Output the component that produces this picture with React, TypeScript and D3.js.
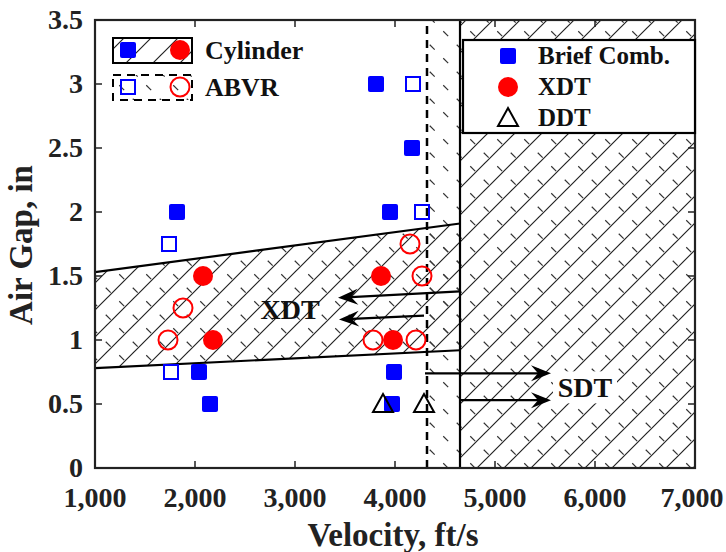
import React, { useEffect, useRef } from 'react';
import * as d3 from 'd3';

// axis ticks
const xTicks = [1000, 2000, 3000, 4000, 5000, 6000, 7000];
const yTicks = [0, 0.5, 1, 1.5, 2, 2.5, 3, 3.5];

// Brief combustion, cylinder (filled squares)
const briefCylVel = [1820, 2040, 2150, 3810, 3950, 4170, 3990, 3970];
const briefCylGap = [2.0, 0.75, 0.5, 3.0, 2.0, 2.5, 0.75, 0.5];
// Brief combustion, ABVR (open squares)
const briefAbvrVel = [1740, 1760, 4180, 4270];
const briefAbvrGap = [1.75, 0.75, 3.0, 2.0];
// XDT, cylinder (filled circles)
const xdtCylVel = [2080, 2180, 3860, 3980];
const xdtCylGap = [1.5, 1.0, 1.5, 1.0];
// XDT, ABVR (open circles)
const xdtAbvrVel = [1880, 1730, 4150, 4270, 3780, 4210];
const xdtAbvrGap = [1.25, 1.0, 1.75, 1.5, 1.0, 1.0];
// DDT (triangles)
const ddtVel = [3880, 4290];
const ddtGap = [0.5, 0.5];

// XDT band edges, at the two ends of the band
const bandVel = [1000, 4650];
const bandTop = [1.53, 1.91];
const bandBottom = [0.78, 0.92];
const abvrLimit = 4320;
const cylLimit = 4650;

// annotation arrows [fromVel, fromGap, toVel, toGap]
const xdtArrows = [[4650, 1.38, 3430, 1.33], [4290, 1.19, 3440, 1.16]];
const sdtArrows = [[4300, 0.74, 5560, 0.74], [4650, 0.53, 5560, 0.53]];

const W = 726;
const H = 552;
const FONT = '"Liberation Serif", "Times New Roman", serif';

const App = () => {
  const svgRef = useRef<SVGSVGElement>(null);

  useEffect(() => {
    const svg = d3.select(svgRef.current);
    svg.selectAll('*').remove();

    const x = d3.scaleLinear().domain([1000, 7000]).range([95, 695]);
    const y = d3.scaleLinear().domain([0, 3.5]).range([468, 20]);

    const defs = svg.append('defs');
    defs.append('clipPath').attr('id', 'plotClip')
      .append('rect').attr('x', 95).attr('y', 20).attr('width', 600).attr('height', 448);

    // solid "/" hatch (cylinder)
    defs.append('pattern').attr('id', 'hatchSolid')
      .attr('patternUnits', 'userSpaceOnUse').attr('width', 27).attr('height', 27)
      .append('path').attr('d', 'M-2,2 L2,-2 M0,27 L27,0 M25,29 L29,25')
      .attr('stroke', '#222').attr('stroke-width', 1.2);

    // dashed "\" hatch (ABVR)
    defs.append('pattern').attr('id', 'hatchDash')
      .attr('patternUnits', 'userSpaceOnUse').attr('width', 27).attr('height', 27)
      .attr('x', 7).attr('y', 0)
      .append('path').attr('d', 'M0,0 L27,27')
      .attr('stroke', '#333').attr('stroke-width', 1.2)
      .attr('stroke-dasharray', '7 12.09').attr('stroke-dashoffset', -6);

    const plot = svg.append('g').attr('clip-path', 'url(#plotClip)');

    const band = [
      [x(bandVel[0]), y(bandTop[0])],
      [x(bandVel[1]), y(bandTop[1])],
      [x(bandVel[1]), y(bandBottom[1])],
      [x(bandVel[0]), y(bandBottom[0])],
    ];
    const bandPath = 'M' + band.map(p => p.join(',')).join('L') + 'Z';

    // ABVR hatch
    plot.append('path').attr('d', bandPath).attr('fill', 'url(#hatchDash)');
    plot.append('rect').attr('x', x(abvrLimit)).attr('y', y(3.5))
      .attr('width', x(7000) - x(abvrLimit)).attr('height', y(0) - y(3.5))
      .attr('fill', 'url(#hatchDash)');
    // Cylinder hatch
    plot.append('path').attr('d', bandPath).attr('fill', 'url(#hatchSolid)');
    plot.append('rect').attr('x', x(cylLimit)).attr('y', y(3.5))
      .attr('width', x(7000) - x(cylLimit)).attr('height', y(0) - y(3.5))
      .attr('fill', 'url(#hatchSolid)');

    // band edges and limits
    plot.append('line').attr('x1', x(bandVel[0])).attr('y1', y(bandTop[0]))
      .attr('x2', x(bandVel[1])).attr('y2', y(bandTop[1]))
      .attr('stroke', '#000').attr('stroke-width', 2.2);
    plot.append('line').attr('x1', x(bandVel[0])).attr('y1', y(bandBottom[0]))
      .attr('x2', x(bandVel[1])).attr('y2', y(bandBottom[1]))
      .attr('stroke', '#000').attr('stroke-width', 2.2);
    plot.append('line').attr('x1', x(cylLimit)).attr('x2', x(cylLimit))
      .attr('y1', y(0)).attr('y2', y(3.5))
      .attr('stroke', '#000').attr('stroke-width', 2.2);
    plot.append('line').attr('x1', x(abvrLimit)).attr('x2', x(abvrLimit))
      .attr('y1', y(0)).attr('y2', y(3.5))
      .attr('stroke', '#000').attr('stroke-width', 2.5).attr('stroke-dasharray', '8 6');

    // frame and ticks
    svg.append('rect').attr('x', 95).attr('y', 20).attr('width', 600).attr('height', 448)
      .attr('fill', 'none').attr('stroke', '#222').attr('stroke-width', 2.2);
    const ticks = svg.append('g').attr('stroke', '#222').attr('stroke-width', 1.5);
    xTicks.forEach(v => {
      ticks.append('line').attr('x1', x(v)).attr('x2', x(v)).attr('y1', y(0)).attr('y2', y(0) - 7);
      ticks.append('line').attr('x1', x(v)).attr('x2', x(v)).attr('y1', y(3.5)).attr('y2', y(3.5) + 7);
    });
    yTicks.forEach(v => {
      ticks.append('line').attr('x1', x(1000)).attr('x2', x(1000) + 7).attr('y1', y(v)).attr('y2', y(v));
      ticks.append('line').attr('x1', x(7000)).attr('x2', x(7000) - 7).attr('y1', y(v)).attr('y2', y(v));
    });

    const txt = svg.append('g').attr('font-family', FONT).attr('font-weight', 'bold').attr('fill', '#222');
    xTicks.forEach(v => {
      txt.append('text').attr('x', Math.min(x(v), 692)).attr('y', 507).attr('text-anchor', 'middle')
        .attr('font-size', 28).text(d3.format(',')(v));
    });
    yTicks.forEach(v => {
      txt.append('text').attr('x', 83).attr('y', y(v) + 9).attr('text-anchor', 'end')
        .attr('font-size', 28).text(String(v));
    });
    txt.append('text').attr('x', 393).attr('y', 546).attr('text-anchor', 'middle')
      .attr('font-size', 33).text('Velocity, ft/s');
    txt.append('text').attr('transform', `translate(32,245) rotate(-90)`).attr('text-anchor', 'middle')
      .attr('font-size', 33).text('Air Gap, in');

    // markers
    const g = svg.append('g');
    const filledSquare = (sel, cx, cy) => sel.append('rect')
      .attr('x', cx - 8).attr('y', cy - 8).attr('width', 16).attr('height', 16).attr('rx', 2)
      .attr('fill', '#0000ff');
    const openSquare = (sel, cx, cy) => sel.append('rect')
      .attr('x', cx - 7).attr('y', cy - 7).attr('width', 14).attr('height', 14)
      .attr('fill', 'none').attr('stroke', '#0000ff').attr('stroke-width', 2);
    const filledCircle = (sel, cx, cy) => sel.append('circle')
      .attr('cx', cx).attr('cy', cy).attr('r', 10).attr('fill', '#ff0000');
    const openCircle = (sel, cx, cy) => sel.append('circle')
      .attr('cx', cx).attr('cy', cy).attr('r', 9.5)
      .attr('fill', 'none').attr('stroke', '#ff0000').attr('stroke-width', 2);
    const triangle = (sel, cx, cy) => sel.append('path')
      .attr('d', `M${cx},${cy - 10} L${cx + 10},${cy + 8} L${cx - 10},${cy + 8} Z`)
      .attr('fill', 'none').attr('stroke', '#000').attr('stroke-width', 2);

    briefCylVel.forEach((v, i) => filledSquare(g, x(v), y(briefCylGap[i])));
    briefAbvrVel.forEach((v, i) => openSquare(g, x(v), y(briefAbvrGap[i])));
    xdtCylVel.forEach((v, i) => filledCircle(g, x(v), y(xdtCylGap[i])));
    xdtAbvrVel.forEach((v, i) => openCircle(g, x(v), y(xdtAbvrGap[i])));
    ddtVel.forEach((v, i) => triangle(g, x(v), y(ddtGap[i])));

    // arrows
    const arrow = (a) => {
      const x1 = x(a[0]), y1 = y(a[1]), x2 = x(a[2]), y2 = y(a[3]);
      const ang = Math.atan2(y2 - y1, x2 - x1);
      const L = 20, hw = 8, notch = 7;
      const ux = Math.cos(ang), uy = Math.sin(ang);
      const px = -uy, py = ux;
      g.append('line').attr('x1', x1).attr('y1', y1)
        .attr('x2', x2 - ux * (L - notch)).attr('y2', y2 - uy * (L - notch))
        .attr('stroke', '#000').attr('stroke-width', 2.2);
      const pts = [
        [x2, y2],
        [x2 - ux * L + px * hw, y2 - uy * L + py * hw],
        [x2 - ux * (L - notch), y2 - uy * (L - notch)],
        [x2 - ux * L - px * hw, y2 - uy * L - py * hw],
      ];
      g.append('path').attr('d', 'M' + pts.map(p => p.join(',')).join('L') + 'Z').attr('fill', '#000');
    };
    xdtArrows.forEach(arrow);
    sdtArrows.forEach(arrow);

    const ann = svg.append('g').attr('font-family', FONT).attr('font-weight', 'bold').attr('fill', '#111')
      .attr('font-size', 28).attr('text-anchor', 'middle');
    ann.append('rect').attr('x', x(5900) - 32).attr('y', y(0.63) - 16).attr('width', 64).attr('height', 32).attr('fill', '#fff');
    ann.append('text').attr('x', x(2950)).attr('y', y(1.24) + 10).text('XDT');
    ann.append('text').attr('x', x(5900)).attr('y', y(0.63) + 10).text('SDT');

    // legend: case
    const leg1 = svg.append('g');
    leg1.append('rect').attr('x', 113).attr('y', 38).attr('width', 79).attr('height', 25)
      .attr('fill', 'url(#hatchSolid)').attr('stroke', '#000').attr('stroke-width', 2);
    filledSquare(leg1, 128, 50);
    filledCircle(leg1, 180, 50);
    leg1.append('rect').attr('x', 113).attr('y', 75).attr('width', 79).attr('height', 25)
      .attr('fill', 'url(#hatchDash)').attr('stroke', '#000').attr('stroke-width', 2)
      .attr('stroke-dasharray', '8 6');
    openSquare(leg1, 128, 87);
    openCircle(leg1, 180, 87);
    leg1.append('text').attr('x', 205).attr('y', 59).attr('font-family', FONT).attr('font-weight', 'bold')
      .attr('font-size', 26).attr('fill', '#111').text('Cylinder');
    leg1.append('text').attr('x', 205).attr('y', 96).attr('font-family', FONT).attr('font-weight', 'bold')
      .attr('font-size', 26).attr('fill', '#111').text('ABVR');

    // legend: outcome
    const leg2 = svg.append('g');
    leg2.append('rect').attr('x', 463).attr('y', 40).attr('width', 232).attr('height', 93)
      .attr('fill', '#fff').attr('stroke', '#000').attr('stroke-width', 2.2);
    filledSquare(leg2, 508, 56);
    filledCircle(leg2, 508, 87);
    triangle(leg2, 508, 118);
    [['Brief Comb.', 56], ['XDT', 87], ['DDT', 118]].forEach(([t, yy]) => {
      leg2.append('text').attr('x', 538).attr('y', (yy as number) + 8).attr('font-family', FONT)
        .attr('font-weight', 'bold').attr('font-size', 25).attr('fill', '#111').text(t as string);
    });
  }, []);

  return (
    <div style={{ position: 'absolute', left: 0, top: 0 }}>
      <svg ref={svgRef} width={W} height={H} style={{ display: 'block', background: '#fff' }} />
    </div>
  );
};

export default App;
